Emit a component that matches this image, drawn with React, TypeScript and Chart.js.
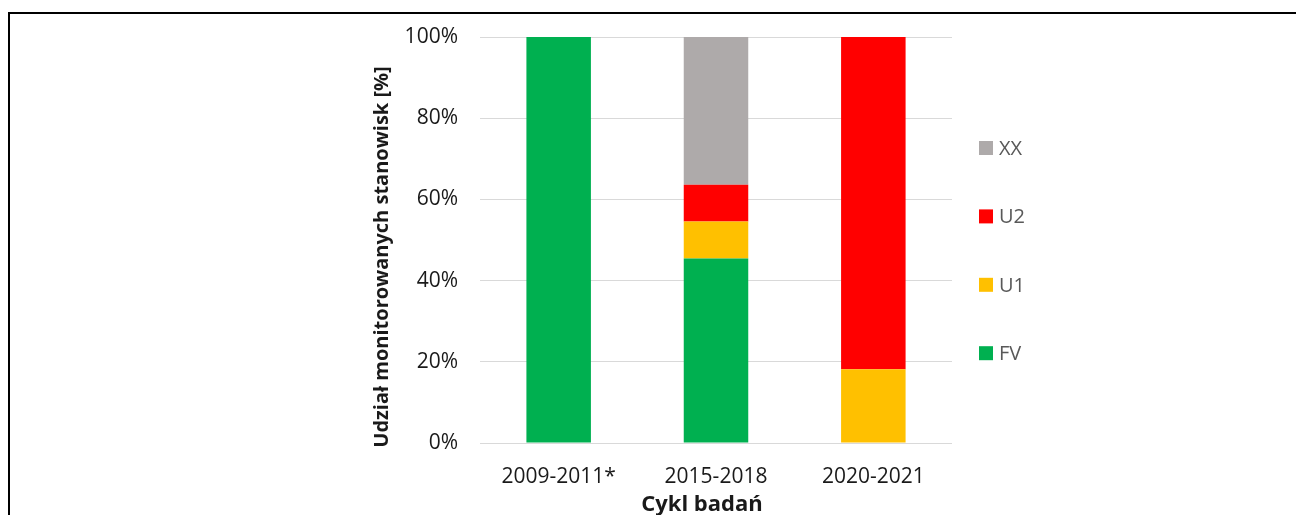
import React, { useEffect, useRef } from "react";
import { Chart, registerables, Plugin } from "chart.js";

Chart.register(...registerables);

// Survey cycles and share of monitored sites per conservation status (%)
const cycles = ["2009-2011*", "2015-2018", "2020-2021"];
const fvShare = [100, 45.45, 0];
const u1Share = [0, 9.09, 18.18];
const u2Share = [0, 9.09, 81.82];
const xxShare = [0, 36.36, 0];

const statusLabels = ["FV", "U1", "U2", "XX"];
const statusColors = ["#00B050", "#FFC000", "#FF0000", "#AEAAAA"];
const percentTicks = [0, 20, 40, 60, 80, 100];

const yTitle = "Udział monitorowanych stanowisk [%]";
const xTitle = "Cykl badań";

const FONT = "'Open Sans', 'Noto Sans', sans-serif";
const TEXT = "#1a1a1a";

// Axis titles: rotated y title left of the tick labels, x title below the categories
const axisTitles: Plugin<"bar"> = {
  id: "axisTitles",
  afterDraw(chart) {
    const ctx = chart.ctx;
    const { top, bottom, left, right } = chart.chartArea;
    ctx.save();
    ctx.fillStyle = TEXT;
    ctx.textAlign = "center";
    ctx.textBaseline = "middle";

    ctx.font = `bold 22px ${FONT}`;
    ctx.fillText(xTitle, (left + right) / 2 - 14, 505);

    ctx.translate(382, (top + bottom) / 2 + 17);
    ctx.rotate(-Math.PI / 2);
    ctx.font = `bold 20px ${FONT}`;
    ctx.fillText(yTitle, 0, 0);
    ctx.restore();
  },
};

// Legend drawn to the right of the plot, top-to-bottom in reverse stacking order
const sideLegend: Plugin<"bar"> = {
  id: "sideLegend",
  afterDraw(chart) {
    const ctx = chart.ctx;
    const items = chart.data.datasets.map((d, i) => ({
      label: String(d.label),
      color: statusColors[i],
    }));
    items.reverse();
    const boxX = 979;
    const textX = 999;
    const firstY = 148;
    const step = 68.4;
    ctx.save();
    ctx.font = `20px ${FONT}`;
    ctx.textBaseline = "middle";
    ctx.textAlign = "left";
    items.forEach((it, i) => {
      const y = firstY + i * step;
      ctx.fillStyle = it.color;
      ctx.fillRect(boxX, y - 7, 14, 14);
      ctx.fillStyle = "#595959";
      ctx.fillText(it.label, textX, y + 1);
    });
    ctx.restore();
  },
};

export default function App() {
  const canvasRef = useRef<HTMLCanvasElement | null>(null);

  useEffect(() => {
    const canvas = canvasRef.current;
    if (!canvas) return;
    const series = [fvShare, u1Share, u2Share, xxShare];
    const chart = new Chart(canvas, {
      type: "bar",
      data: {
        labels: cycles,
        datasets: series.map((values, i) => ({
          label: statusLabels[i],
          data: values,
          backgroundColor: statusColors[i],
          borderWidth: 0,
          barPercentage: 0.41,
          categoryPercentage: 1,
        })),
      },
      options: {
        animation: false,
        responsive: false,
        maintainAspectRatio: false,
        devicePixelRatio: 1,
        layout: { padding: { left: 370, right: 344, top: 37, bottom: 0 } },
        plugins: {
          legend: { display: false },
          tooltip: { enabled: false },
        },
        scales: {
          x: {
            stacked: true,
            grid: { display: false, drawTicks: false },
            border: { display: false },
            ticks: {
              padding: 21,
              color: TEXT,
              font: { family: FONT, size: 21 },
            },
            afterFit: (scale) => {
              scale.height = 72;
            },
          },
          y: {
            stacked: true,
            min: 0,
            max: 100,
            afterBuildTicks: (scale) => {
              scale.ticks = percentTicks.map((v) => ({ value: v }));
            },
            grid: { color: "#D9D9D9", lineWidth: 1, drawTicks: false },
            border: { display: false },
            ticks: {
              padding: 22,
              color: TEXT,
              font: { family: FONT, size: 21 },
              callback: (v) => `${v}%`,
            },
            afterFit: (scale) => {
              scale.width = 110;
            },
          },
        },
      },
      plugins: [axisTitles, sideLegend],
    });
    return () => chart.destroy();
  }, []);

  return (
    <div
      style={{
        position: "absolute",
        left: 0,
        top: 0,
        width: 1296,
        height: 515,
        overflow: "hidden",
        background: "#fff",
      }}
    >
      <canvas
        ref={canvasRef}
        width={1296}
        height={515}
        style={{ position: "absolute", left: 0, top: 0, width: 1296, height: 515 }}
      />
      <div
        style={{
          position: "absolute",
          left: 8,
          top: 12,
          width: 1400,
          height: 600,
          borderLeft: "2px solid #000",
          borderTop: "2px solid #000",
          pointerEvents: "none",
        }}
      />
    </div>
  );
}
